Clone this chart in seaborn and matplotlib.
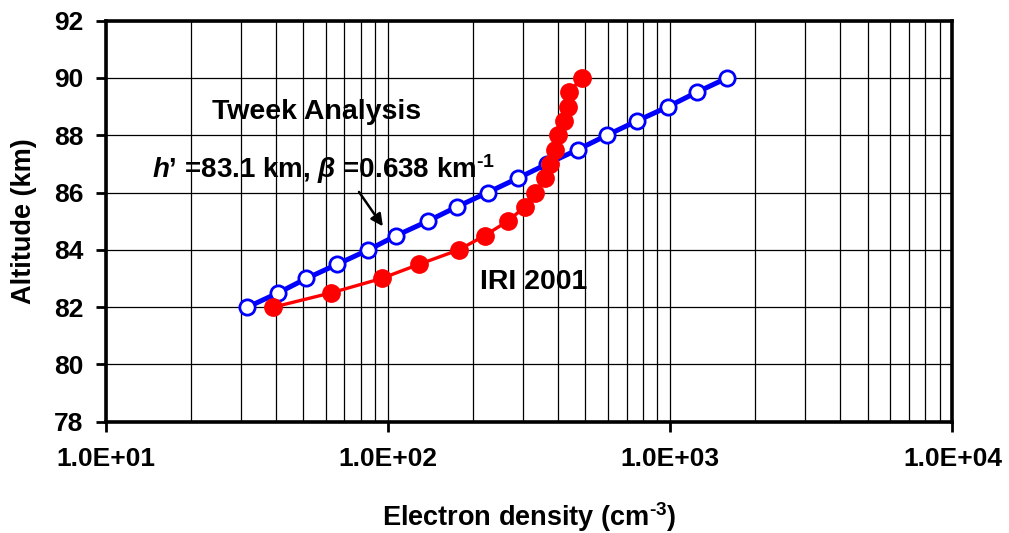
import matplotlib
matplotlib.use("Agg")
import matplotlib.pyplot as plt
import matplotlib.ticker as mticker
import seaborn as sns

# ----------------------------------------------------
# Data
# ----------------------------------------------------
altitude_km = [82.0, 82.5, 83.0, 83.5, 84.0, 84.5, 85.0, 85.5, 86.0,
               86.5, 87.0, 87.5, 88.0, 88.5, 89.0, 89.5, 90.0]
tweek_density = [31.7, 40.8, 51.3, 66.1, 85.1, 107, 138, 175, 225,
                 288, 366, 470, 595, 762, 982, 1240, 1590]
iri_density = [39.2, 62.9, 94.7, 129, 178, 220, 265, 305, 332,
               359, 374, 390, 399, 419, 433, 436, 488]
x_ticks = [1e1, 1e2, 1e3, 1e4]
y_ticks = [78, 80, 82, 84, 86, 88, 90, 92]

sns.set_style("white")
plt.rcParams['font.family'] = ['Liberation Sans', 'DejaVu Sans']
plt.rcParams['font.weight'] = 'bold'
plt.rcParams['text.color'] = 'black'
plt.rcParams['axes.labelcolor'] = 'black'
plt.rcParams['xtick.color'] = 'black'
plt.rcParams['ytick.color'] = 'black'
plt.rcParams['axes.unicode_minus'] = False
plt.rcParams['mathtext.fontset'] = 'custom'
plt.rcParams['mathtext.rm'] = 'Liberation Sans:bold'
plt.rcParams['mathtext.it'] = 'Liberation Sans:italic:bold'
plt.rcParams['mathtext.bf'] = 'Liberation Sans:bold'

fig = plt.figure(figsize=(10.09, 5.33), dpi=100)
ax = fig.add_axes([0.1051, 0.2088, 0.8389, 0.7524])

sns.lineplot(x=tweek_density, y=altitude_km, sort=False, estimator=None, ax=ax,
             color='#0000ff', linewidth=3.6, marker='o', markersize=11,
             markerfacecolor='white', markeredgecolor='#0000ff', markeredgewidth=2,
             zorder=3)
sns.lineplot(x=iri_density, y=altitude_km, sort=False, estimator=None, ax=ax,
             color='#ff0000', linewidth=2.4, marker='o', markersize=12.5,
             markerfacecolor='#ff0000', markeredgecolor='#ff0000', markeredgewidth=1,
             zorder=4)

ax.set_xscale('log')
ax.set_xlim(1e1, 1e4)
ax.set_ylim(78, 92)
ax.set_xticks(x_ticks)
ax.set_yticks(y_ticks)
ax.xaxis.set_major_formatter(mticker.FuncFormatter(lambda v, p: f"{v:.1E}"))
ax.xaxis.set_minor_locator(mticker.LogLocator(base=10, subs=range(2, 10)))
ax.xaxis.set_minor_formatter(mticker.NullFormatter())

ax.grid(which='both', axis='x', color='black', linewidth=0.9)
ax.grid(which='major', axis='y', color='black', linewidth=0.9)
ax.set_axisbelow(True)

for sp in ax.spines.values():
    sp.set_linewidth(2.6)
    sp.set_color('black')
    sp.set_visible(True)

ax.tick_params(axis='x', which='major', direction='out', length=7.5, width=2,
               pad=11, labelsize=19, bottom=True)
ax.tick_params(axis='x', which='minor', length=0)
ax.tick_params(axis='y', which='major', direction='out', length=7.5, width=2,
               pad=9, labelsize=19, left=True)

ax.set_xlabel(r'Electron density (cm$^{\text{-3}}$)', fontsize=19.5, fontweight='bold', labelpad=21)
ax.set_ylabel('Altitude (km)', fontsize=19.5, fontweight='bold', labelpad=12)

ax.text(23.8, 88.58, 'Tweek Analysis', fontsize=20.5, fontweight='bold',
        ha='left', va='baseline')
ax.text(14.6, 86.52, r"$\mathit{h}$’ =83.1 km, $\mathit{\beta}$ =0.638 km$^{\text{-1}}$",
        fontsize=20, fontweight='bold', ha='left', va='baseline')
ax.text(211, 82.64, 'IRI 2001', fontsize=20.5, fontweight='bold',
        ha='left', va='baseline')
ax.annotate('', xy=(97, 84.74), xytext=(77.8, 86.1),
            arrowprops=dict(arrowstyle='-|>', color='black', lw=1.8,
                            mutation_scale=18))

fig.savefig('out.png', dpi=100)
plt.close(fig)
